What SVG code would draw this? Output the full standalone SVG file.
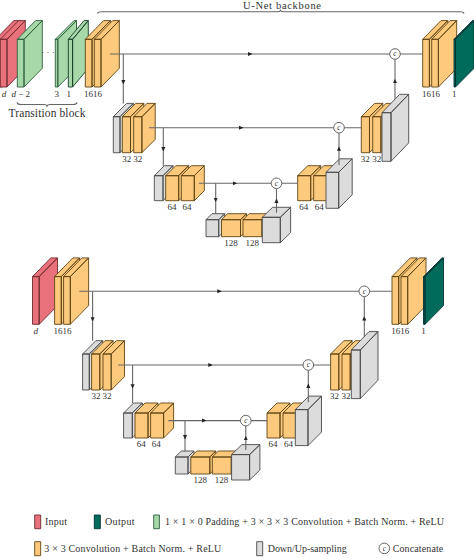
<svg xmlns="http://www.w3.org/2000/svg" width="474" height="559" viewBox="0 0 474 559">
<style>
.o{fill:#fdca7d;stroke:#5f4413;stroke-width:.9;stroke-linejoin:round}
.g{fill:#dcdcdc;stroke:#4a4a4a;stroke-width:.9;stroke-linejoin:round}
.r{fill:#e8717b;stroke:#6e2b30;stroke-width:.9;stroke-linejoin:round}
.v{fill:#a6d8aa;stroke:#2f5f3c;stroke-width:.9;stroke-linejoin:round}
.t{fill:#006a5b;stroke:#033;stroke-width:.9;stroke-linejoin:round}
.l{fill:none;stroke:#666;stroke-width:1.1}
.c{fill:#fff;stroke:#666;stroke-width:1}
text{font-family:"Liberation Serif",serif;fill:#333}
.n{font-size:9px;text-anchor:middle}
.ci{font-size:7.5px;font-style:italic;text-anchor:middle}
.it{font-style:italic}
.cap{font-size:11.5px}
.top{font-size:10.5px}
.lg{font-size:10px}
</style>
<defs>
<marker id="a" markerUnits="userSpaceOnUse" markerWidth="5" markerHeight="5" refX="4" refY="2.5" orient="auto"><path d="M0 .5L4.5 2.5L0 4.5z" fill="#222"/></marker>
<path id="s16" d="M0 0h6.7v47.7H0zM0 0l18.3-18.7h6.7L6.7 0zM6.7 0l18.3-18.7v47.7L6.7 47.7z"/>
<path id="sn1" d="M0 0h2.5v47.7H0zM0 0l18.7-18.7h2.5L2.5 0zM2.5 0l18.7-18.7v47.7L2.5 47.7z"/>
<path id="sn2" d="M0 0h4.3v47.7H0zM0 0l15.7-18.7h4.3L4.3 0zM4.3 0l15.7-18.7v47.7L4.3 47.7z"/>
<path id="st" d="M0 0h1.5v47.7H0zM0 0l18.5-18.7h1.5L1.5 0zM1.5 0l18.5-18.7v47.7L1.5 47.7z"/>
<path id="s32" d="M0 0h8.2v36H0zM0 0l13.3-13.3h8.2L8.2 0zM8.2 0l13.3-13.3v36L8.2 36z"/>
<path id="s64" d="M0 0h13v25H0zM0 0l10-10h13L13 0zM13 0l10-10v25L13 25z"/>
<path id="s128" d="M0 0h19v17H0zM0 0l6-6h19L19 0zM19 0l6-6v17L19 17z"/>
<path id="g32d" d="M0 0h6.7v36H0zM0 0l13.3-13.3h6.7L6.7 0zM6.7 0l13.3-13.3v36L6.7 36z"/>
<path id="g64d" d="M0 0h8.7v25H0zM0 0l10-10h8.7L8.7 0zM8.7 0l10-10v25L8.7 25z"/>
<path id="g128d" d="M0 0h12.7v17H0zM0 0l6-6h12.7L12.7 0zM12.7 0l6-6v17L12.7 17z"/>
<path id="g128u" d="M0 0h18v25.4H0zM0 0l10.3-10h18L18 0zM18 0l10.3-10v25.4L18 25.4z"/>
<path id="g64u" d="M0 0h12.7v36H0zM0 0l13.5-13.5h12.7L12.7 0zM12.7 0l13.5-13.5v36L12.7 36z"/>
<path id="g32u" d="M0 0h9v48.6H0zM0 0l17.7-18.4h9L9 0zM9 0l17.7-18.4v48.6L9 48.6z"/>
</defs>
<rect width="474" height="559" fill="#fff"/>

<g id="upper-net">
<g id="input-upper"><use href="#s16" x="-4.5" y="39.3" class="r"/><use href="#s16" x="0.3" y="39.3" class="r"/><text class="n it" x="4" y="97">d</text></g>
<g id="transition-block">
<use href="#s16" x="17.3" y="39.3" class="v"/><use href="#sn1" x="55.3" y="39.3" class="v"/><use href="#sn2" x="68.3" y="39.3" class="v" style="stroke:#173f29"/>
<text class="n" x="48" y="55">· · ·</text>
<text class="n" x="20.7" y="97"><tspan class="it">d</tspan> − 2</text><text class="n" x="56.7" y="97">3</text><text class="n" x="68.7" y="97">1</text>
<path class="l" d="M17 102.500Q17.500 104.500 21 104.500H44Q46.500 104.500 47 106Q47.500 104.500 50 104.500H73Q76.500 104.500 77 102.500"/>
<text class="cap" x="47" y="117" text-anchor="middle" textLength="77">Transition block</text>
</g>
<g id="backbone-label">
<path class="l" d="M97.500 13.500Q98 11.700 102 11.700H277Q280 11.700 280.500 10.500Q281 11.700 284 11.700H460Q463.500 11.700 464 13.500"/>
<text class="top" x="282" y="9.400" text-anchor="middle" textLength="78">U-Net backbone</text>
</g>
<g id="enc16"><use href="#s16" x="85.300" y="39.300" class="o"/><use href="#s16" x="94.300" y="39.300" class="o"/><text class="n" x="88.600" y="97">16</text><text class="n" x="97.600" y="97">16</text></g>
<g id="enc32"><use href="#g32d" x="113.300" y="116.700" class="g"/><use href="#s32" x="122.300" y="116.700" class="o"/><use href="#s32" x="133.700" y="116.700" class="o"/><text class="n" x="126.700" y="162">32</text><text class="n" x="137.700" y="162">32</text></g>
<g id="enc64"><use href="#g64d" x="154.300" y="175.700" class="g"/><use href="#s64" x="165.700" y="175.700" class="o"/><use href="#s64" x="181.300" y="175.700" class="o"/><text class="n" x="172" y="210">64</text><text class="n" x="187" y="210">64</text></g>
<g id="bottleneck"><use href="#g128d" x="206" y="219.700" class="g"/><use href="#s128" x="221.500" y="219.700" class="o"/><use href="#s128" x="243" y="219.700" class="o"/><use href="#g128u" x="262.300" y="217.300" class="g"/><text class="n" x="231" y="246">128</text><text class="n" x="252.300" y="246">128</text></g>
<g id="dec64"><use href="#s64" x="297.700" y="175.700" class="o"/><use href="#s64" x="313.700" y="175.700" class="o"/><use href="#g64u" x="326" y="172.300" class="g"/><text class="n" x="303.700" y="210">64</text><text class="n" x="319.300" y="210">64</text></g>
<g id="dec32"><use href="#s32" x="361.300" y="116.700" class="o"/><use href="#s32" x="372.700" y="116.700" class="o"/><use href="#g32u" x="382" y="112.700" class="g"/><text class="n" x="365.300" y="162">32</text><text class="n" x="376.700" y="162">32</text></g>
<g id="dec16"><use href="#s16" x="422.700" y="39.300" class="o"/><use href="#s16" x="431.700" y="39.300" class="o"/><text class="n" x="426.500" y="97">16</text><text class="n" x="435.500" y="97">16</text></g>
<g id="output-upper"><use href="#st" x="454" y="39.300" class="t"/><text class="n" x="454.300" y="97">1</text></g>
<g id="connectors-upper">
<path class="l" d="M110 54H252" marker-end="url(#a)"/><path class="l" d="M252 54H422.700"/>
<path class="l" d="M123.300 54V84" marker-end="url(#a)"/><path class="l" d="M123.300 84V103.400"/>
<path class="l" d="M149 127.700H243" marker-end="url(#a)"/><path class="l" d="M243 127.700H361.300"/>
<path class="l" d="M163.300 127.700V151" marker-end="url(#a)"/><path class="l" d="M163.300 151V165.700"/>
<path class="l" d="M199 183.300H236.700" marker-end="url(#a)"/><path class="l" d="M236.700 183.300H297.700"/>
<path class="l" d="M215.700 183.300V201.700" marker-end="url(#a)"/><path class="l" d="M215.700 201.700V214"/>
<path class="l" d="M276.500 212.700V199" marker-end="url(#a)"/><path class="l" d="M276.500 199V188.600"/>
<path class="l" d="M339 165V146.700" marker-end="url(#a)"/><path class="l" d="M339 146.700V133"/>
<path class="l" d="M395 99.300V79.300" marker-end="url(#a)"/><path class="l" d="M395 79.300V59.300"/>
<circle class="c" cx="395" cy="54" r="5.300"/><text class="ci" x="395" y="56.300">c</text>
<circle class="c" cx="339" cy="127.700" r="5.300"/><text class="ci" x="339" y="130">c</text>
<circle class="c" cx="276.500" cy="183.300" r="5.300"/><text class="ci" x="276.500" y="185.600">c</text>
</g>
</g>

<g id="lower-net" transform="translate(-30.700,237.300)">
<g id="input-lower"><use href="#s16" x="63.200" y="39.300" class="r"/><text class="n it" x="66.400" y="97">d</text></g>
<g id="l-enc16"><use href="#s16" x="85.300" y="39.300" class="o"/><use href="#s16" x="94.300" y="39.300" class="o"/><text class="n" x="88.600" y="97">16</text><text class="n" x="97.600" y="97">16</text></g>
<g id="l-enc32"><use href="#g32d" x="113.300" y="116.700" class="g"/><use href="#s32" x="122.300" y="116.700" class="o"/><use href="#s32" x="133.700" y="116.700" class="o"/><text class="n" x="126.700" y="162">32</text><text class="n" x="137.700" y="162">32</text></g>
<g id="l-enc64"><use href="#g64d" x="154.300" y="175.700" class="g"/><use href="#s64" x="165.700" y="175.700" class="o"/><use href="#s64" x="181.300" y="175.700" class="o"/><text class="n" x="172" y="210">64</text><text class="n" x="187" y="210">64</text></g>
<g id="l-bottleneck"><use href="#g128d" x="206" y="219.700" class="g"/><use href="#s128" x="221.500" y="219.700" class="o"/><use href="#s128" x="243" y="219.700" class="o"/><use href="#g128u" x="262.300" y="217.300" class="g"/><text class="n" x="231" y="246">128</text><text class="n" x="252.300" y="246">128</text></g>
<g id="l-dec64"><use href="#s64" x="297.700" y="175.700" class="o"/><use href="#s64" x="313.700" y="175.700" class="o"/><use href="#g64u" x="326" y="172.300" class="g"/><text class="n" x="303.700" y="210">64</text><text class="n" x="319.300" y="210">64</text></g>
<g id="l-dec32"><use href="#s32" x="361.300" y="116.700" class="o"/><use href="#s32" x="372.700" y="116.700" class="o"/><use href="#g32u" x="382" y="112.700" class="g"/><text class="n" x="365.300" y="162">32</text><text class="n" x="376.700" y="162">32</text></g>
<g id="l-dec16"><use href="#s16" x="422.700" y="39.300" class="o"/><use href="#s16" x="431.700" y="39.300" class="o"/><text class="n" x="426.500" y="97">16</text><text class="n" x="435.500" y="97">16</text></g>
<g id="output-lower"><use href="#st" x="454.200" y="39.300" class="t"/><text class="n" x="454.300" y="97">1</text></g>
<g id="connectors-lower">
<path class="l" d="M110 54H252" marker-end="url(#a)"/><path class="l" d="M252 54H422.700"/>
<path class="l" d="M123.300 54V84" marker-end="url(#a)"/><path class="l" d="M123.300 84V103.400"/>
<path class="l" d="M149 127.700H243" marker-end="url(#a)"/><path class="l" d="M243 127.700H361.300"/>
<path class="l" d="M163.300 127.700V151" marker-end="url(#a)"/><path class="l" d="M163.300 151V165.700"/>
<path class="l" d="M199 183.300H236.700" marker-end="url(#a)"/><path class="l" d="M236.700 183.300H297.700"/>
<path class="l" d="M215.700 183.300V201.700" marker-end="url(#a)"/><path class="l" d="M215.700 201.700V214"/>
<path class="l" d="M276.500 212.700V199" marker-end="url(#a)"/><path class="l" d="M276.500 199V188.600"/>
<path class="l" d="M339 165V146.700" marker-end="url(#a)"/><path class="l" d="M339 146.700V133"/>
<path class="l" d="M395 99.300V79.300" marker-end="url(#a)"/><path class="l" d="M395 79.300V59.300"/>
<circle class="c" cx="395" cy="54" r="5.300"/><text class="ci" x="395" y="56.300">c</text>
<circle class="c" cx="339" cy="127.700" r="5.300"/><text class="ci" x="339" y="130">c</text>
<circle class="c" cx="276.500" cy="183.300" r="5.300"/><text class="ci" x="276.500" y="185.600">c</text>
</g>
</g>

<g id="legend">
<g id="lg-input"><rect class="r" x="34.700" y="515" width="6" height="13.700"/><text class="lg" x="45" y="524.500" textLength="22">Input</text></g>
<g id="lg-output"><rect class="t" x="94.300" y="515" width="6" height="13.700"/><text class="lg" x="105" y="524.500" textLength="29.500">Output</text></g>
<g id="lg-trans"><rect class="v" x="153.700" y="515" width="5.700" height="13.700"/><text class="lg" x="165" y="524.500" textLength="279">1 × 1 × 0 Padding + 3 × 3 × 3 Convolution + Batch Norm. + ReLU</text></g>
<g id="lg-conv"><rect class="o" x="34.700" y="541.700" width="6" height="14"/><text class="lg" x="44.300" y="551.500" textLength="177">3 × 3 Convolution + Batch Norm. + ReLU</text></g>
<g id="lg-samp"><rect class="g" x="256.700" y="541.700" width="6" height="14"/><text class="lg" x="267.700" y="551.500" textLength="79">Down/Up-sampling</text></g>
<g id="lg-cat"><circle class="c" cx="384.300" cy="548.400" r="5.300"/><text class="ci" x="384.300" y="550.700">c</text><text class="lg" x="392.700" y="551.500" textLength="50.600">Concatenate</text></g>
</g>
</svg>
